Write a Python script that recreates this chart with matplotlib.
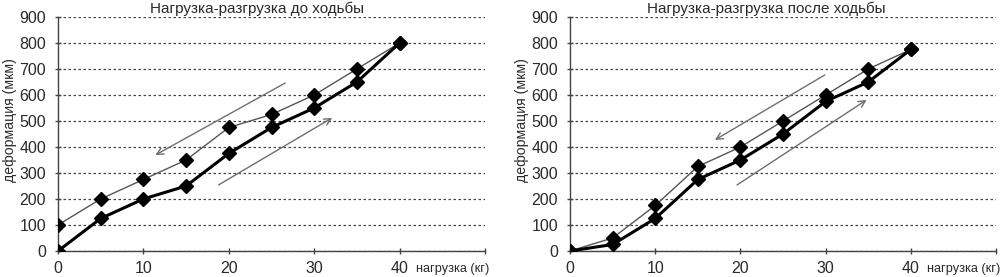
import matplotlib.pyplot as plt

plt.rcParams["font.family"] = ["Liberation Sans", "DejaVu Sans"]

load_kg = [0, 5, 10, 15, 20, 25, 30, 35, 40]

# до ходьбы
before_load = [0, 125, 200, 250, 375, 475, 550, 650, 800]
before_unload = [100, 200, 275, 350, 475, 525, 600, 700, 800]

# после ходьбы
after_load = [0, 25, 125, 275, 350, 450, 575, 650, 775]
after_unload = [0, 50, 175, 325, 400, 500, 600, 700, 775]

titles = ["Нагрузка-разгрузка до ходьбы", "Нагрузка-разгрузка после ходьбы"]

# стрелки: (начало, конец) в координатах данных
before_arrows = [((26.6, 646), (11.4, 369)), ((18.8, 254), (32.1, 512))]
after_arrows = [((29.9, 677), (17.0, 427)), ((19.6, 254), (34.8, 581))]

text_color = "#2a2a2a"

fig = plt.figure(figsize=(10.05, 2.77), dpi=100)
ax1 = fig.add_axes([0.0577, 0.0939, 0.4249, 0.8448])
ax2 = fig.add_axes([0.5672, 0.0939, 0.4239, 0.8448])

panels = [
    (ax1, before_load, before_unload, before_arrows, titles[0], 0.466),
    (ax2, after_load, after_unload, after_arrows, titles[1], 0.46),
]

for ax, load, unload, arrows, title, tx in panels:
    for (x0, y0), (x1, y1) in arrows:
        ax.annotate("", xy=(x1, y1), xytext=(x0, y0),
                    arrowprops=dict(arrowstyle="->", color="#6e6e6e", lw=1.0,
                                    mutation_scale=12, shrinkA=0, shrinkB=0))
    ax.plot(load_kg, unload, color="#555555", lw=1.0, marker="D", ms=7,
            mfc="black", mec="black", zorder=3)
    ax.plot(load_kg, load, color="black", lw=2.2, marker="D", ms=7,
            mfc="black", mec="black", zorder=4)

    ax.set_xlim(0, 50)
    ax.set_ylim(0, 900)
    ax.set_xticks([0, 10, 20, 30, 40, 50])
    ax.set_xticklabels(["0", "10", "20", "30", "40", ""])
    ax.set_yticks(range(0, 901, 100))
    ax.yaxis.grid(True, linestyle=(0, (2, 2)), color="#444444", lw=0.9)
    ax.set_axisbelow(True)
    for s in ["top", "right"]:
        ax.spines[s].set_visible(False)
    for s in ["left", "bottom"]:
        ax.spines[s].set_color("#444444")
        ax.spines[s].set_linewidth(1.0)
    ax.tick_params(axis="both", direction="inout", length=5, width=1,
                   color="#444444", labelsize=11.5, labelcolor=text_color)
    ax.tick_params(axis="y", pad=6)
    ax.tick_params(axis="x", pad=5)
    ax.set_ylabel("деформация (мкм)", fontsize=10.2, color=text_color)
    ax.yaxis.set_label_coords(-0.097, 0.56)
    ax.text(41.9, -70, "нагрузка (кг)", fontsize=9.2, color=text_color,
            ha="left", va="center", clip_on=False)
    ax.set_title(title, fontsize=11, color=text_color, x=tx, pad=3)

fig.savefig("out.png", dpi=100)
